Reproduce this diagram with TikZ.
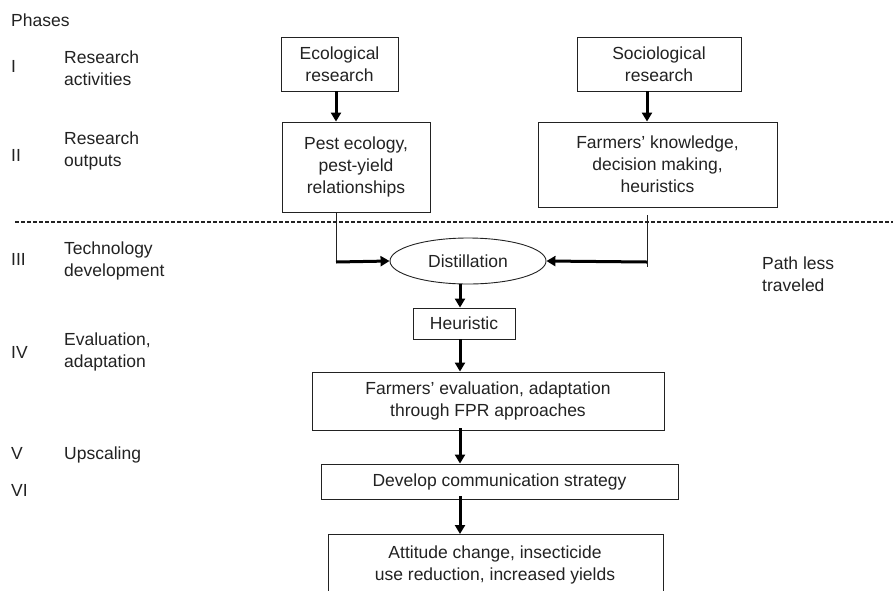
\documentclass[tikz,border=0pt]{standalone}
\usepackage{fontspec}
\setmainfont{Liberation Sans}
\usetikzlibrary{arrows.meta,shapes.geometric}
\definecolor{ink}{HTML}{222222}
\begin{document}
\begin{tikzpicture}[x=1pt,y=-1pt,
  every node/.style={font=\fontsize{17.5}{22}\selectfont, text=ink},
  box/.style={draw=ink, line width=0.9pt, align=center, inner sep=0pt},
  lbl/.style={anchor=west, align=left, inner sep=0pt},
  arr/.style={draw=black, line width=3pt, -{Triangle[length=9pt,width=10pt]}},
  thin/.style={draw=ink, line width=0.9pt}]
\fill[white] (0,0) rectangle (893,590);
\useasboundingbox (0,0) rectangle (893,590);
% left labels
\node[lbl] (ph) at (11,20) {Phases};
\node[lbl] (p1) at (11,66) {I};
\node[lbl] (t1) at (64,68) {Research\\activities};
\node[lbl] (p2) at (11,155) {II};
\node[lbl] (t2) at (64,151) {Research\\outputs};
\node[lbl] (p3) at (11,259) {III};
\node[lbl] (t3) at (64,261) {Technology\\development};
\node[lbl] (p4) at (11,352) {IV};
\node[lbl] (t4) at (64,352) {Evaluation,\\adaptation};
\node[lbl] (p5) at (11,453) {V};
\node[lbl] (t5) at (64,455) {Upscaling};
\node[lbl] (p6) at (11,490) {VI};
\node[lbl] (plt) at (762,274) {Path less\\traveled};
% boxes
\node[box, minimum width=117pt, minimum height=54pt] (eco) at (339.5,64) {Ecological\\research};
\node[box, minimum width=148pt, minimum height=90pt] (pest) at (356,167) {Pest ecology,\\pest-yield\\relationships};
\node[box, minimum width=164pt, minimum height=54pt] (soc) at (659,64) {Sociological\\research};
\node[box, minimum width=239pt, minimum height=85pt] (farm) at (657.5,164.5) {Farmers’ knowledge,\\decision making,\\heuristics};
\node[box, ellipse, minimum width=156pt, minimum height=46pt] (dist) at (468,261) {Distillation};
\node[box, minimum width=102pt, minimum height=31pt] (heur) at (464,323.5) {Heuristic};
\node[box, minimum width=352pt, minimum height=58pt] (eval) at (488,401) {Farmers’ evaluation, adaptation\\through FPR approaches};
\node[box, minimum width=357pt, minimum height=35pt] (dev) at (499.5,481.5) {Develop communication strategy};
\node[align=center, inner sep=0pt] (att) at (495,565) {Attitude change, insecticide\\use reduction, increased yields};
\draw[thin] (328,592) -- (328,534) -- (663,534) -- (663,592);
\coordinate (atttop) at (460,534);
% dashed divider
\coordinate (dl) at (15,222);
\coordinate (dr) at (893,222);
\draw[ink, line width=1.1pt, dash pattern=on 4pt off 2pt] (dl) -- (dr);
% connector x positions
\coordinate (ax) at (336,0);
\coordinate (bx) at (647,0);
\coordinate (cx) at (460,0);
\draw[arr] (eco.south -| ax) -- (pest.north -| ax);
\draw[arr] (soc.south -| bx) -- (farm.north -| bx);
% into distillation
\coordinate (lc) at (336,262);
\coordinate (rtop) at (647,215);
\coordinate (rbot) at (647,267);
\coordinate (rc) at (647,262);
\draw[thin] (pest.south -| ax) -- (lc);
\draw[arr] (lc) -- (dist.west);
\draw[thin] (rtop) -- (rbot);
\draw[arr] (rc) -- (dist.east);
% chain
\draw[arr] (dist.south -| cx) -- (heur.north -| cx);
\draw[arr] (heur.south -| cx) -- (eval.north -| cx);
\draw[arr] ([yshift=2pt]eval.south -| cx) -- (dev.north -| cx);
\draw[arr] ([yshift=3pt]dev.south -| cx) -- (atttop);
\end{tikzpicture}
\end{document}
